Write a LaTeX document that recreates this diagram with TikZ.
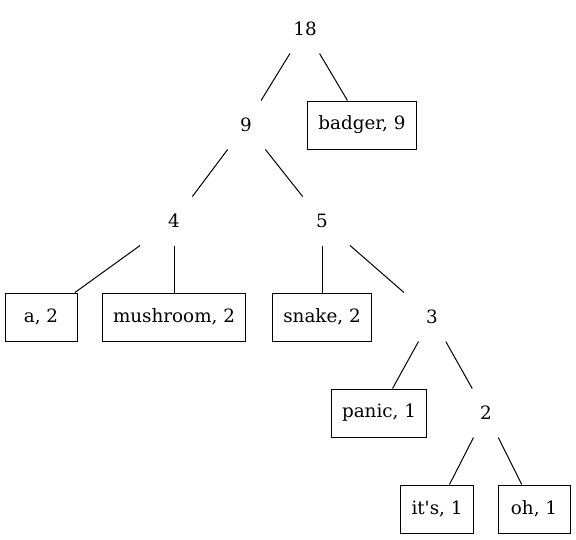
\documentclass[tikz,border=0pt]{standalone}
\usepackage{fontspec}
\setmainfont{DejaVu Serif}[Ligatures=TeXOff]
\usetikzlibrary{positioning}

\begin{document}
\begin{tikzpicture}[x=0.6pt, y=0.6pt, node distance=57.6pt, on grid, line width=0.6pt]
\tikzstyle{every node}=[font=\fontsize{11}{13}\selectfont]
\tikzstyle{inner}=[rectangle, minimum width=43.2pt, minimum height=28.8pt, inner sep=0pt]
\tikzstyle{leaf}=[rectangle, draw, minimum width=43.2pt, minimum height=28.8pt, inner xsep=6.6pt, inner ysep=0pt]
\useasboundingbox (0,0) rectangle (576,-539);
   \node[inner](n18) at (305,-29) {18};
   \node[inner](n9) [below left=57.6pt and 35.4pt of n18] {9};
   \node[leaf](badger) [below right=57.6pt and 34.2pt of n18] {badger, 9};
   \node[inner](n4) [below left=57.6pt and 43.2pt of n9] {4};
   \node[inner](n5) [below right=57.6pt and 45.6pt of n9] {5};
\node[leaf](a) [below left=57.6pt and 79.8pt of n4] {a, 2};
\node[leaf](mushroom) [below=of n4] {mushroom, 2};
\node[leaf](snake) [below=of n5] {snake, 2};
\node[inner](n3) [below right=57.6pt and 66pt of n5] {3};
\node[leaf](panic) [below left=57.6pt and 31.8pt of n3] {panic, 1};
\node[inner](n2) [below right=57.6pt and 32.4pt of n3] {2};
\node[leaf](its) [below left=57.6pt and 29.4pt of n2] {it's, 1};
\node[leaf](oh) [below right=57.6pt and 28.8pt of n2] {oh, 1};
   \path(n18) edge (n9);
   \path(n18) edge (badger);
   \path(n9) edge (n4);
   \path(n9) edge (n5);
\path(n4) edge (a);
\path(n4) edge (mushroom);
\path(n5) edge (snake);
\path(n5) edge (n3);
\path(n3) edge (panic);
\path(n3) edge (n2);
\path(n2) edge (its);
\path(n2) edge (oh);

 \end{tikzpicture}
\end{document}
